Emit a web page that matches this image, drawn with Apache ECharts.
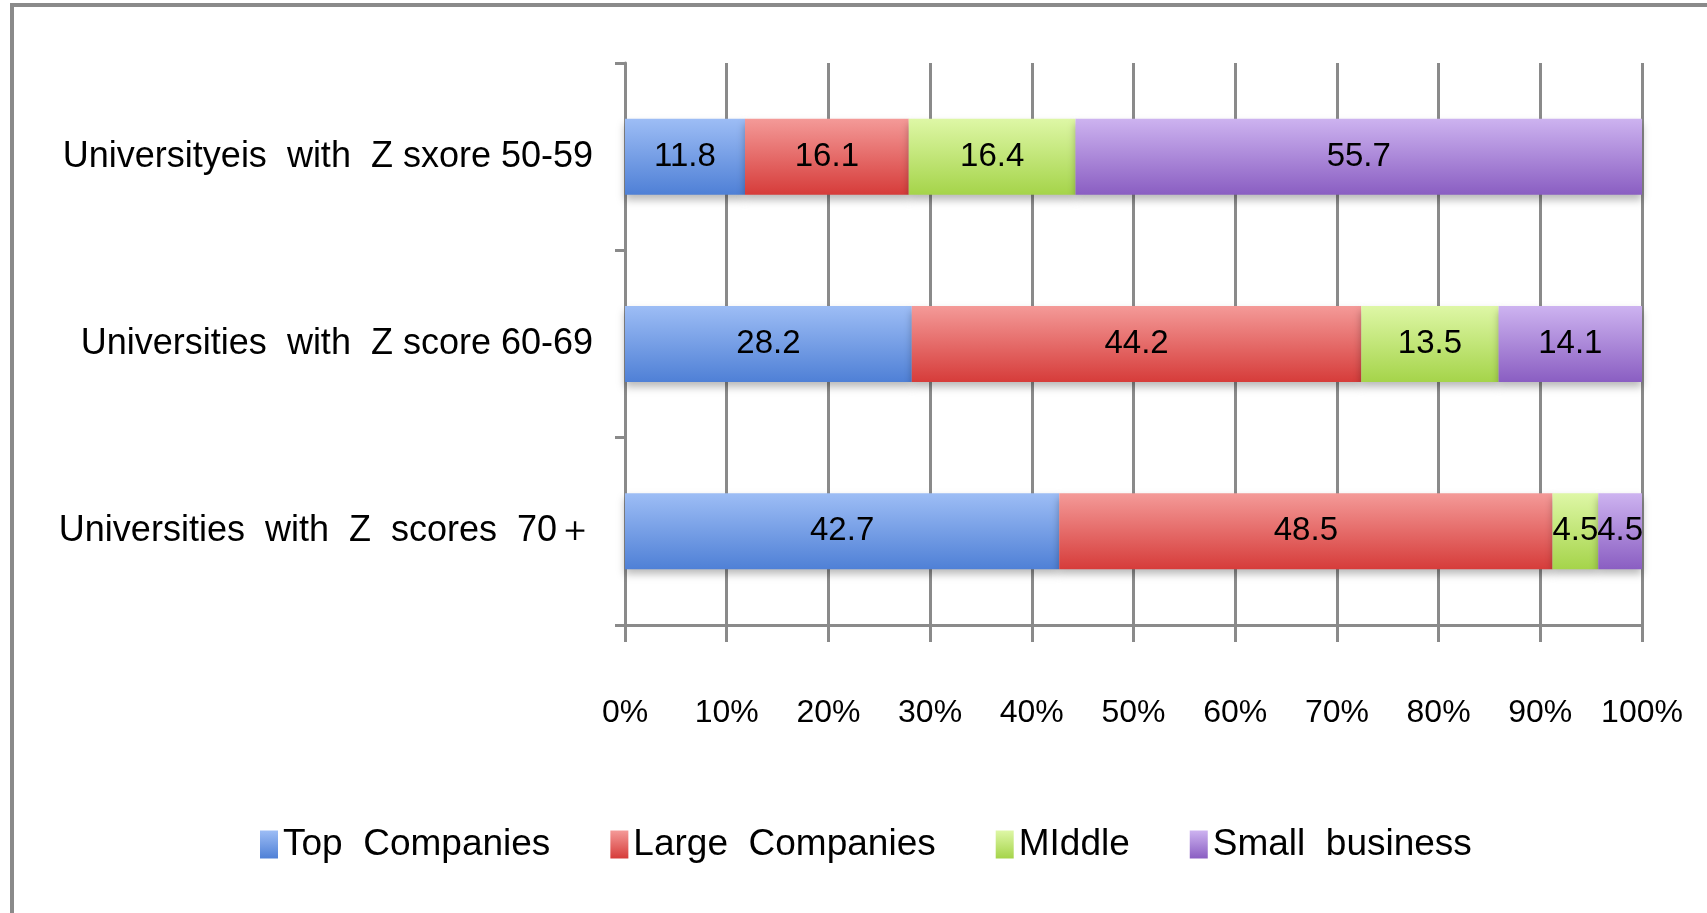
<!DOCTYPE html>
<html>
<head>
<meta charset="utf-8">
<script src="https://cdn.jsdelivr.net/npm/echarts@6/dist/echarts.min.js"></script>
<style>
  html, body { margin: 0; padding: 0; background: #ffffff; }
  #chart { width: 1707px; height: 913px; }
</style>
</head>
<body>
<div id="chart"></div>
<script>
// Categories, listed bottom to top as ECharts draws a category y axis
const categories = [
  'Universities  with  Z  scores  70\uFF0B',
  'Universities  with  Z score 60-69',
  'Universityeis  with  Z sxore 50-59'
];

const seriesNames = ['Top  Companies', 'Large  Companies', 'MIddle', 'Small  business'];

const topCompanies   = [42.7, 28.2, 11.8];
const largeCompanies = [48.5, 44.2, 16.1];
const middle         = [4.5, 13.5, 16.4];
const smallBusiness  = [4.5, 14.1, 55.7];

const xTicks = { min: 0, max: 100, interval: 10 };

const FONT = '"Liberation Sans", Arial, sans-serif';

function grad(top, bottom) {
  return new echarts.graphic.LinearGradient(0, 0, 0, 1, [
    { offset: 0, color: top },
    { offset: 1, color: bottom }
  ]);
}

const palette = [
  grad('#9dbdf5', '#4f80d6'),
  grad('#f49a98', '#d63c3a'),
  grad('#def7a6', '#a5d44a'),
  grad('#cdb3f0', '#8a5ec2')
];

const seriesData = [topCompanies, largeCompanies, middle, smallBusiness];

const chart = echarts.init(document.getElementById('chart'));

chart.setOption({
  animation: false,
  backgroundColor: '#ffffff',
  graphic: [{
    type: 'rect',
    shape: { x: 12, y: 5, width: 1800, height: 1000 },
    style: { fill: 'none', stroke: '#8a8a8a', lineWidth: 4 },
    z: 100
  }],
  grid: {
    left: 625, right: 65, top: 63, bottom: 288,
    containLabel: false,
    outerBoundsMode: 'none'
  },
  legend: {
    data: seriesNames,
    left: 255,
    top: 821,
    itemWidth: 18,
    itemHeight: 28,
    itemGap: 60,
    icon: 'rect',
    textStyle: { fontFamily: FONT, fontSize: 37, color: '#000' }
  },
  xAxis: {
    type: 'value',
    min: xTicks.min,
    max: xTicks.max,
    interval: xTicks.interval,
    axisLine: { show: true, lineStyle: { color: '#8a8a8a', width: 3 } },
    axisTick: { show: true, length: 17, lineStyle: { color: '#8a8a8a', width: 3 } },
    splitLine: { show: true, lineStyle: { color: '#8a8a8a', width: 3 } },
    axisLabel: {
      formatter: '{value}%',
      margin: 72,
      fontFamily: FONT,
      fontSize: 32,
      color: '#000'
    }
  },
  yAxis: {
    type: 'category',
    data: categories,
    axisLine: { show: true, lineStyle: { color: '#8a8a8a', width: 3 } },
    axisTick: { show: true, length: 10, lineStyle: { color: '#8a8a8a', width: 3 } },
    axisLabel: {
      margin: 32,
      fontFamily: FONT,
      fontSize: 36,
      color: '#000'
    }
  },
  series: seriesNames.map((name, i) => ({
    name: name,
    type: 'bar',
    stack: 'total',
    barWidth: 76,
    data: seriesData[i],
    itemStyle: {
      color: palette[i],
      shadowColor: 'rgba(0,0,0,0.28)',
      shadowBlur: 8,
      shadowOffsetY: 5
    },
    label: {
      show: true,
      position: 'inside',
      fontFamily: FONT,
      fontSize: 33,
      color: '#000'
    }
  }))
});
</script>
</body>
</html>
